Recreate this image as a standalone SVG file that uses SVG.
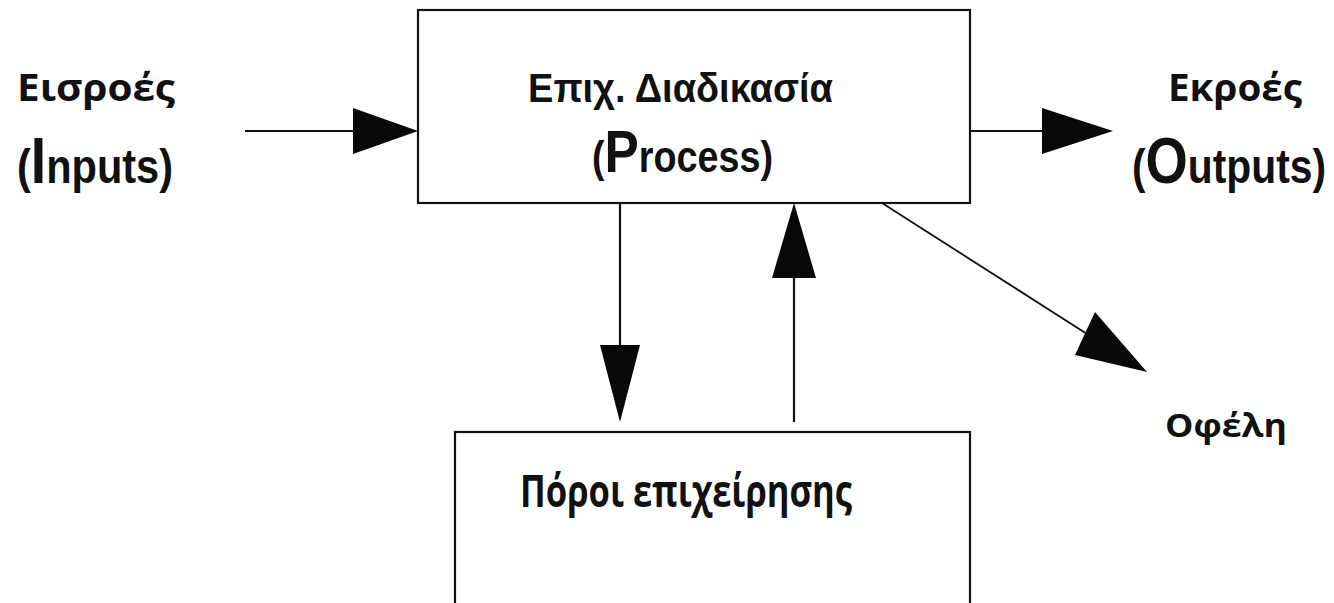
<svg xmlns="http://www.w3.org/2000/svg" width="1334" height="603" viewBox="0 0 1334 603">
<style>
.box{fill:#fff;stroke:#111;stroke-width:2.2}
.ln{stroke:#111;stroke-width:2.2;fill:none}
.ln2{stroke:#111;stroke-width:1.8;fill:none}
.hd{fill:#080808;stroke:none}
.t{font-family:"Liberation Sans",Arial,sans-serif;fill:#111;font-weight:bold}
.g{font-family:"Open Sans","Noto Sans",sans-serif;fill:#111;font-weight:bold}
</style>
<rect width="1334" height="603" fill="#fff"/>
<g id="process">
<rect class="box" x="418" y="10" width="552" height="193"/>
<text class="t" x="528" y="102" font-size="41" textLength="305" lengthAdjust="spacingAndGlyphs">Επιχ. Διαδικασία</text>
<text class="t" x="592" y="172" font-size="44" textLength="181" lengthAdjust="spacingAndGlyphs">(<tspan font-size="60">P</tspan>rocess)</text>
</g>
<g id="resources">
<rect class="box" x="455" y="432" width="515" height="190"/>
<text class="g" x="520" y="507" font-size="44" textLength="332" lengthAdjust="spacingAndGlyphs">Πόροι επιχείρησης</text>
</g>
<g id="inputs">
<text class="g" x="17" y="101" font-size="37" textLength="158" lengthAdjust="spacingAndGlyphs">Εισροές</text>
<text class="t" x="17" y="183" font-size="48" textLength="156" lengthAdjust="spacingAndGlyphs">(<tspan font-size="64">I</tspan>nputs)</text>
</g>
<g id="outputs">
<text class="g" x="1168" y="101" font-size="37" textLength="134" lengthAdjust="spacingAndGlyphs">Εκροές</text>
<text class="t" x="1132" y="183" font-size="48" textLength="194" lengthAdjust="spacingAndGlyphs">(<tspan font-size="64">O</tspan>utputs)</text>
</g>
<g id="benefits">
<text class="g" x="1165" y="437" font-size="33" textLength="122" lengthAdjust="spacingAndGlyphs">Οφέλη</text>
</g>
<g id="connectors">
<line class="ln" x1="245" y1="131" x2="355" y2="131"/>
<polygon class="hd" points="353,108 418,131 353,154"/>
<line class="ln" x1="970" y1="131" x2="1044" y2="131"/>
<polygon class="hd" points="1042,108 1113,131 1042,154"/>
<line class="ln" x1="620" y1="203" x2="620" y2="347"/>
<polygon class="hd" points="600,345 640,345 620,422"/>
<line class="ln" x1="794" y1="422" x2="794" y2="276"/>
<polygon class="hd" points="772,278 816,278 794,203"/>
<line class="ln2" x1="882" y1="203" x2="1087" y2="334"/>
<polygon class="hd" points="1095,312 1147,372 1075,355"/>
</g>
</svg>
